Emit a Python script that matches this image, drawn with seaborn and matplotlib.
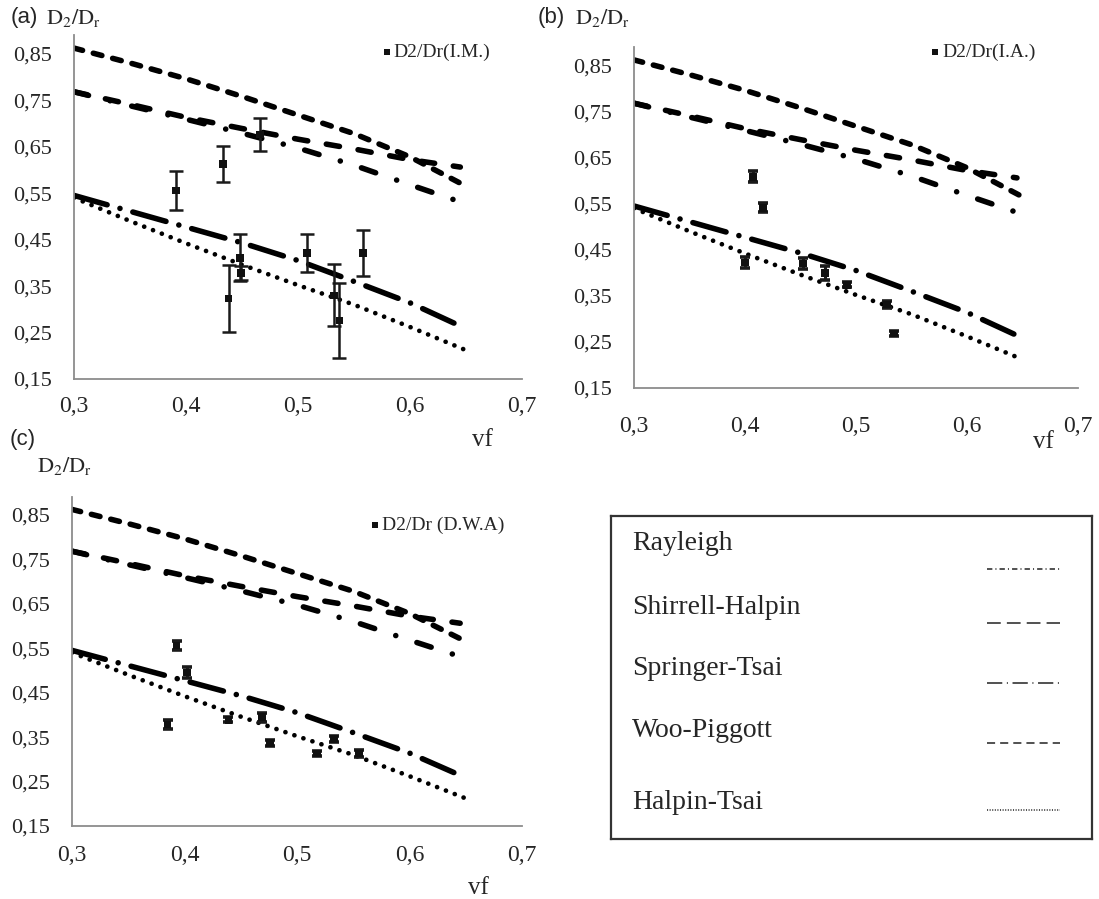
import seaborn as sns
import matplotlib.pyplot as plt
from matplotlib.lines import Line2D

# Curvas de los modelos (iguales en los tres paneles)
vf_curve = [0.30, 0.35, 0.40, 0.45, 0.50, 0.55, 0.60, 0.65]
vf_curve_short = [0.30, 0.35, 0.40, 0.45, 0.50, 0.55, 0.60, 0.645]
rayleigh = [0.768, 0.738, 0.709, 0.679, 0.647, 0.610, 0.568, 0.527]
shirrell_halpin = [0.768, 0.741, 0.713, 0.689, 0.666, 0.645, 0.622, 0.606]
springer_tsai = [0.545, 0.511, 0.477, 0.443, 0.405, 0.360, 0.314, 0.264]
woo_piggott = [0.862, 0.830, 0.796, 0.758, 0.718, 0.678, 0.628, 0.565]
halpin_tsai = [0.540, 0.490, 0.442, 0.396, 0.352, 0.310, 0.262, 0.212]

# Datos experimentales
vf_im = [0.391, 0.433, 0.466, 0.438, 0.448, 0.449, 0.508, 0.532, 0.537, 0.558]
d2_im = [0.556, 0.612, 0.676, 0.323, 0.411, 0.378, 0.421, 0.330, 0.276, 0.421]
err_im = [0.042, 0.039, 0.036, 0.072, 0.050, 0.015, 0.040, 0.067, 0.080, 0.050]

vf_ia = [0.407, 0.416, 0.400, 0.452, 0.472, 0.492, 0.528, 0.534]
d2_ia = [0.608, 0.541, 0.422, 0.420, 0.400, 0.374, 0.331, 0.268]
err_ia = [0.012, 0.010, 0.012, 0.012, 0.015, 0.005, 0.008, 0.006]

vf_dwa = [0.393, 0.402, 0.385, 0.439, 0.469, 0.476, 0.518, 0.533, 0.555]
d2_dwa = [0.556, 0.495, 0.378, 0.389, 0.395, 0.337, 0.313, 0.346, 0.313]
err_dwa = [0.010, 0.012, 0.010, 0.006, 0.010, 0.006, 0.005, 0.006, 0.007]

xticks = [0.3, 0.4, 0.5, 0.6, 0.7]
yticks = [0.15, 0.25, 0.35, 0.45, 0.55, 0.65, 0.75, 0.85]
model_names = ['Rayleigh', 'Shirrell-Halpin', 'Springer-Tsai', 'Woo-Piggott', 'Halpin-Tsai']

sns.set_style('white')
plt.rcParams['font.family'] = ['Liberation Serif', 'DejaVu Serif']
plt.rcParams['mathtext.fontset'] = 'stix'

# grosor y patrón de cada curva (patrón en múltiplos del grosor)
estilos = {
    'Rayleigh': (4.0, (0, (2.7, 4.0, 0.01, 4.0))),
    'Shirrell-Halpin': (4.0, (0, (2.4, 3.4))),
    'Springer-Tsai': (4.0, (0, (6.2, 2.4, 0.01, 2.4))),
    'Woo-Piggott': (4.0, (0, (1.6, 2.0))),
    'Halpin-Tsai': (3.4, (0, (0.01, 2.0))),
}
estilos_leyenda = {
    'Rayleigh': (0, (3.5, 2, 0.7, 2)),
    'Shirrell-Halpin': (0, (9, 4)),
    'Springer-Tsai': (0, (10, 3, 0.7, 3)),
    'Woo-Piggott': (0, (5.3, 3.3)),
    'Halpin-Tsai': (0, (0.7, 1.0)),
}
curvas = [
    ('Rayleigh', vf_curve, rayleigh),
    ('Shirrell-Halpin', vf_curve_short, shirrell_halpin),
    ('Springer-Tsai', vf_curve_short, springer_tsai),
    ('Woo-Piggott', vf_curve, woo_piggott),
    ('Halpin-Tsai', vf_curve, halpin_tsai),
]


def panel(ax, vf, d2, err, etiqueta, pos_leyenda, xpad, grueso):
    for nombre, x, y in curvas:
        lw, ls = estilos[nombre]
        sns.lineplot(x=x, y=y, ax=ax, color='black', linewidth=lw,
                     linestyle=ls, dash_capstyle='round')
    if grueso:
        ax.errorbar(vf, d2, yerr=err, fmt='none', ecolor='#1a1a1a',
                    elinewidth=2.2, capsize=3.4, capthick=2.6, zorder=4)
    else:
        ax.errorbar(vf, d2, yerr=err, fmt='none', ecolor='#1a1a1a',
                    elinewidth=1.8, capsize=4.8, capthick=1.8, zorder=4)
    sns.scatterplot(x=vf, y=d2, ax=ax, marker='s', color='#111111', s=30,
                    edgecolor='none', label=etiqueta, zorder=5)

    ax.set_xlim(0.3, 0.7)
    ax.set_ylim(0.15, 0.89)
    ax.set_xticks(xticks)
    ax.set_yticks(yticks)
    ax.set_xticklabels([f'{v:.1f}'.replace('.', ',') for v in xticks], fontsize=17)
    ax.set_yticklabels([f'{v:.2f}'.replace('.', ',') for v in yticks], fontsize=16)
    ax.tick_params(axis='x', direction='out', length=5, width=1.2, color='#8c8c8c', pad=xpad)
    ax.tick_params(axis='y', direction='inout', length=8, width=1.2, color='#8c8c8c', pad=12)
    for lado in ['top', 'right']:
        ax.spines[lado].set_visible(False)
    for lado in ['left', 'bottom']:
        ax.spines[lado].set_color('#8c8c8c')
        ax.spines[lado].set_linewidth(1.3)
    ax.set_xlabel('')
    ax.set_ylabel('')
    ax.grid(False)
    ax.legend(loc='center left', bbox_to_anchor=pos_leyenda, frameon=False,
              fontsize=14, handlelength=0.4, handletextpad=0.15,
              borderpad=0, borderaxespad=0, markerscale=0.8)


fig = plt.figure(figsize=(10.99, 8.99), dpi=100)

ax_a = fig.add_axes([0.0673, 0.5784, 0.4076, 0.3826])
ax_b = fig.add_axes([0.5769, 0.5684, 0.4040, 0.3793])
ax_c = fig.add_axes([0.0655, 0.0812, 0.4095, 0.3660])

panel(ax_a, vf_im, d2_im, err_im, 'D2/Dr(I.M.)', (0.69, 0.95), 7, False)
panel(ax_b, vf_ia, d2_ia, err_ia, 'D2/Dr(I.A.)', (0.67, 0.985), 15, True)
panel(ax_c, vf_dwa, d2_dwa, err_dwa, 'D2/Dr (D.W.A)', (0.665, 0.915), 9, True)

# Títulos y etiquetas de ejes
etiqueta_y = r'$\mathrm{D_2/D_r}$'
for letra, xl, xd, yl, yd in [('(a)', 0.010, 0.042, 0.980, 0.980),
                              ('(b)', 0.489, 0.523, 0.980, 0.980),
                              ('(c)', 0.009, 0.034, 0.5106, 0.4817)]:
    fig.text(xl, yl, letra, fontsize=16, family=['Liberation Sans', 'DejaVu Sans'],
             ha='left', va='center')
    fig.text(xd, yd, etiqueta_y, fontsize=16, ha='left', va='center')

for x, y in [(0.4386, 0.5106), (0.949, 0.5083), (0.435, 0.0122)]:
    fig.text(x, y, 'vf', fontsize=18, ha='center', va='center')

# Cuadro de leyenda de los modelos
leg_ax = fig.add_axes([0.556, 0.0667, 0.4377, 0.3593])
leg_ax.set_xlim(0, 1)
leg_ax.set_ylim(0, 1)
leg_ax.set_xticks([])
leg_ax.set_yticks([])
for lado in leg_ax.spines.values():
    lado.set_visible(True)
    lado.set_color('#333333')
    lado.set_linewidth(1.6)
texto_y = [0.916, 0.718, 0.529, 0.337, 0.1146]
linea_y = [0.836, 0.669, 0.483, 0.297, 0.0898]
for nombre, ty, ly in zip(model_names, texto_y, linea_y):
    leg_ax.text(0.0437, ty, nombre, fontsize=20, ha='left', va='center')
    leg_ax.add_line(Line2D([0.782, 0.933], [ly, ly], color='#222222', linewidth=1.1,
                           linestyle=estilos_leyenda[nombre]))

plt.savefig('out.png', dpi=100)
